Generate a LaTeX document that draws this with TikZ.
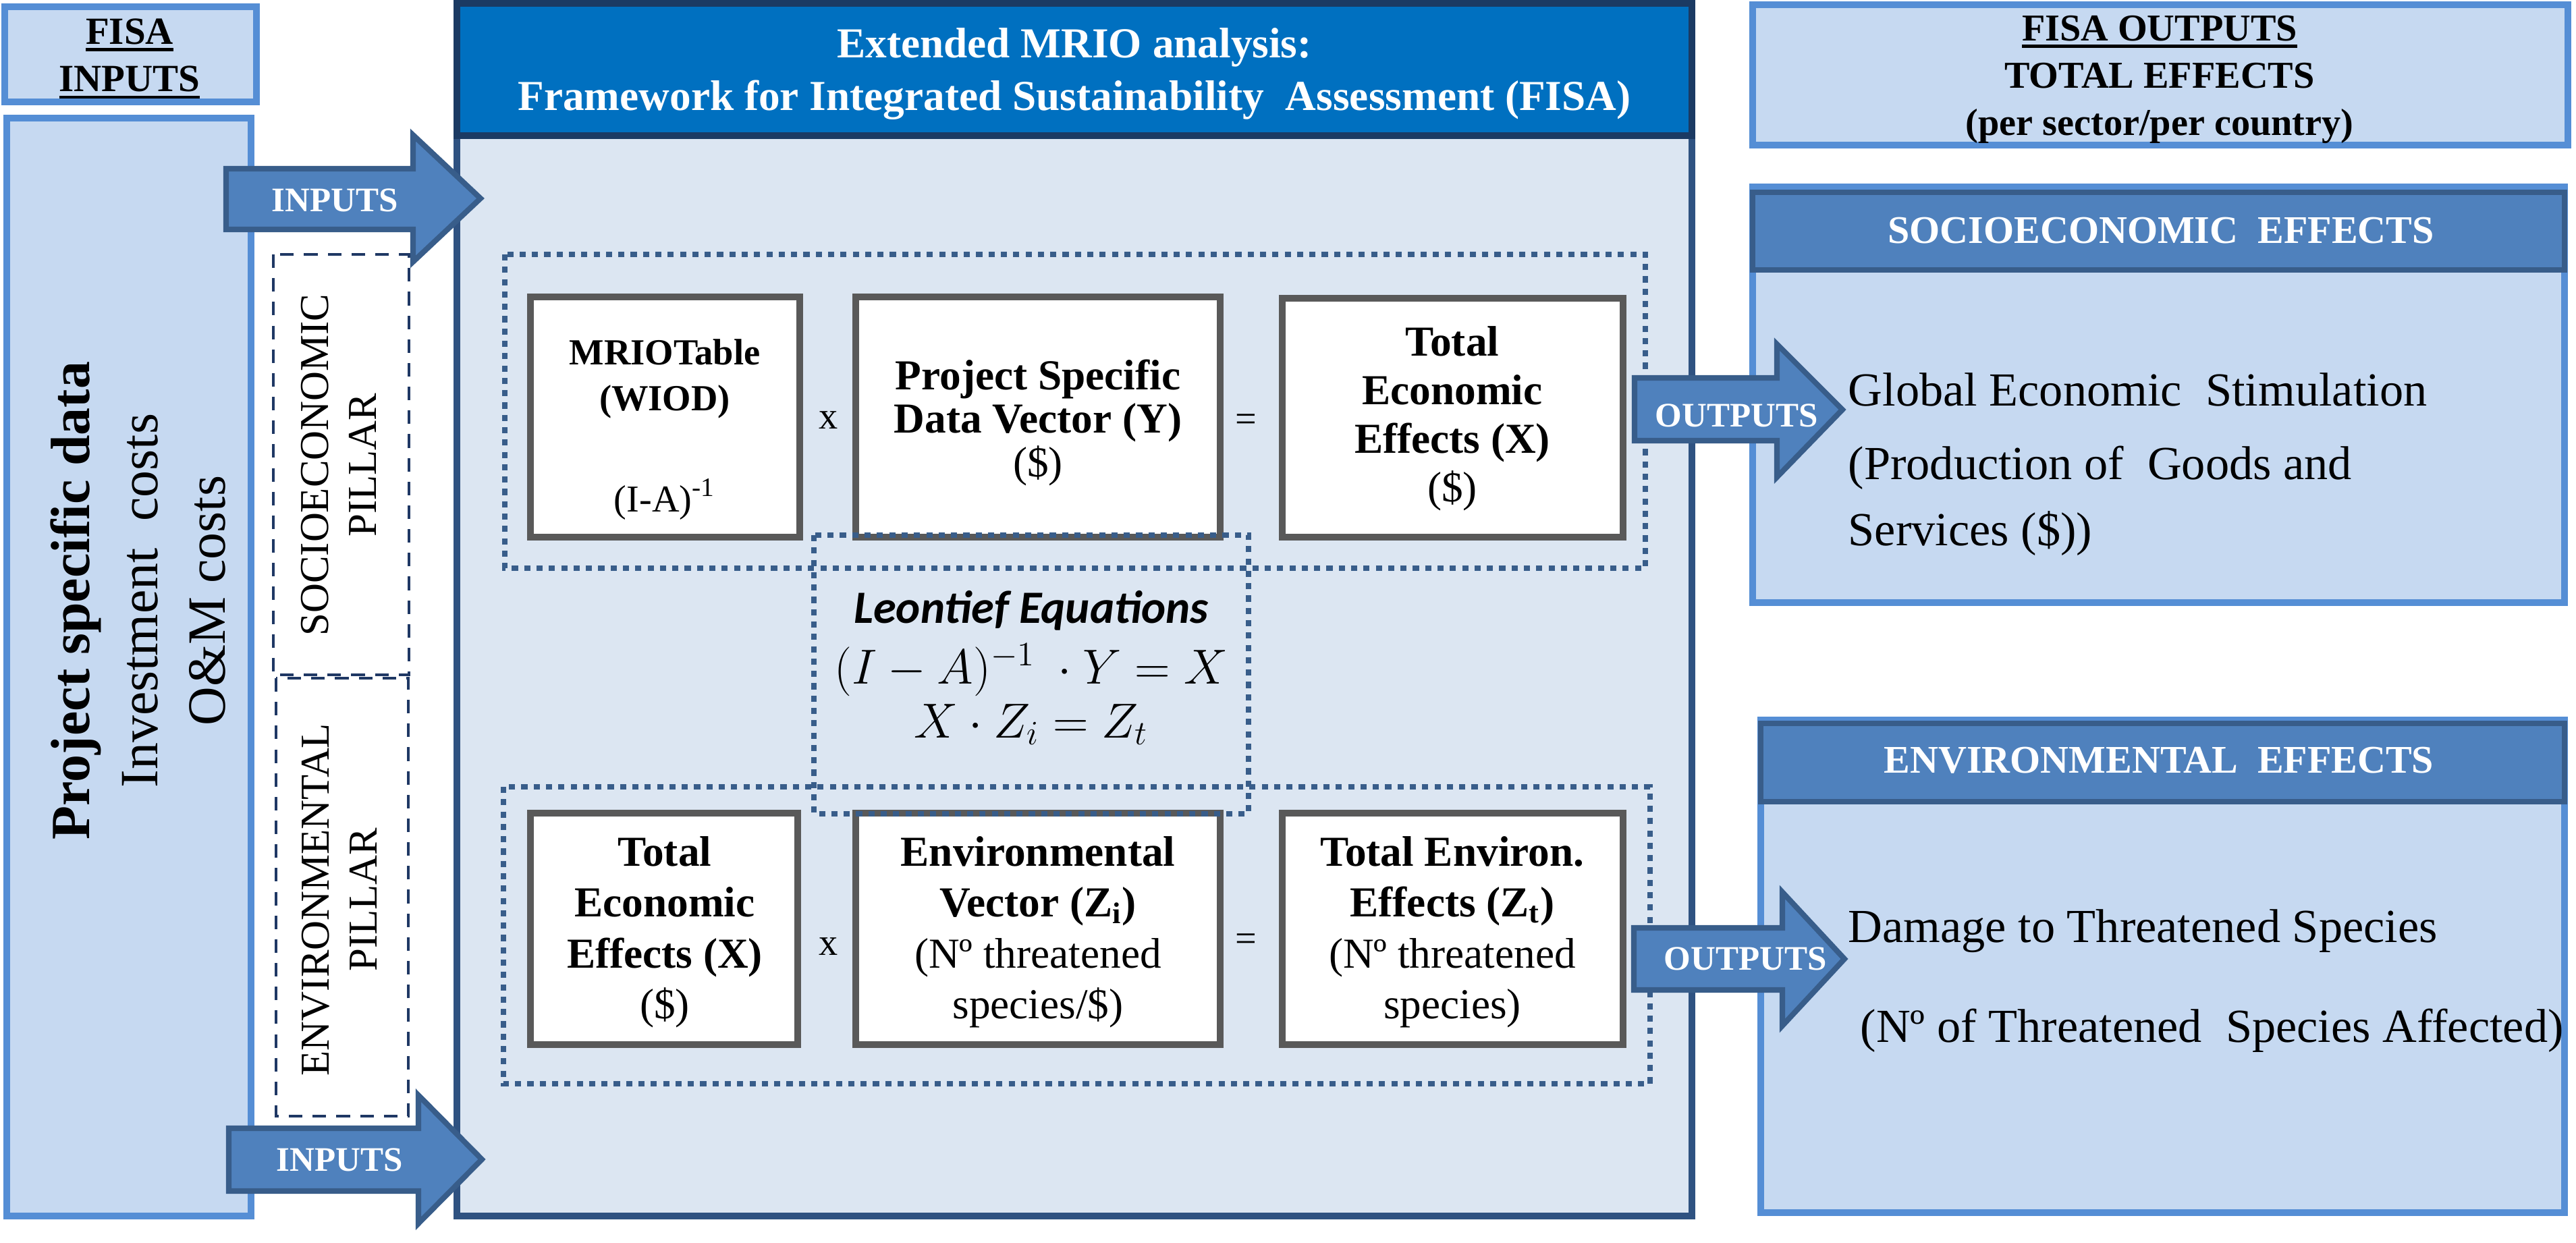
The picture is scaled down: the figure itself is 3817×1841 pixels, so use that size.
\documentclass[tikz,border=0pt]{standalone}
\usepackage{fontspec}
\setmainfont{Liberation Serif}
\newfontfamily\calib{Carlito}
\definecolor{lightfill}{HTML}{C6D9F1}
\definecolor{lightborder}{HTML}{558ED5}
\definecolor{mainfill}{HTML}{DCE6F2}
\definecolor{mainborder}{HTML}{2F5281}
\definecolor{headfill}{HTML}{0070C0}
\definecolor{headborder}{HTML}{1B3A63}
\definecolor{arrowfill}{HTML}{4F81BD}
\definecolor{arrowborder}{HTML}{385D8A}
\definecolor{dotblue}{HTML}{385D8A}
\definecolor{navy}{HTML}{1F3864}
\definecolor{boxgray}{HTML}{595959}
\newcommand\fsz[2]{\fontsize{#1}{#2}\selectfont}
\newcommand\stk[2][c]{\begin{tabular}[t]{@{}#1@{}}#2\end{tabular}}
\newcommand\thul[1]{\leavevmode\vtop{\hbox{#1}\kern1.6pt\hrule height 1.4pt}}
\begin{document}
\begin{tikzpicture}[x=0.01cm,y=-0.01cm,
  lightbox/.style={fill=lightfill,draw=lightborder,line width=2.8pt},
  mainbox/.style={fill=mainfill,draw=mainborder,line width=2.8pt},
  headbox/.style={fill=headfill,draw=headborder,line width=2.6pt},
  effhead/.style={fill=arrowfill,draw=arrowborder,line width=2.4pt},
  blockarrow/.style={fill=arrowfill,draw=arrowborder,line width=2.3pt,line join=miter},
  inbox/.style={fill=white,draw=boxgray,line width=2.7pt},
  dotbox/.style={draw=dotblue,line width=2.4pt,dash pattern=on 2.6pt off 2.6pt},
  pillarbox/.style={draw=navy,line width=1.4pt,dash pattern=on 5.7pt off 4.3pt},
  txt/.style={inner sep=0pt,anchor=base},
  righttxt/.style={txt,anchor=base west,font=\fsz{20pt}{23.6pt}},
  arrtxt/.style={txt,font=\bfseries\fsz{14.5pt}{17pt},text=white},
  sign/.style={inner sep=0pt,font=\fsz{16pt}{19pt}}]
\useasboundingbox (0,0) rectangle (3817,1841);

% ---------- left side ----------
\draw[lightbox] (7,10) rectangle (380,151);
\node[txt,font=\bfseries\fsz{16.2pt}{20pt}] (fisain) at (192,65) {\stk{\thul{FISA}\\\thul{INPUTS}}};

\draw[lightbox] (10,175) rectangle (372,1802);
\node[txt,rotate=90,font=\fsz{22.7pt}{28.5pt}] (psd) at (133,890)
  {\stk{\fsz{23.3pt}{28.5pt}\bfseries Project specific data\\Investment\ \ costs\\O\&M costs}};

\draw[pillarbox] (405,377) rectangle (606,1000);
\draw[pillarbox] (409,1005) rectangle (605,1654);
\node[txt,rotate=90,font=\fsz{17.3pt}{20.2pt}] (socp) at (486,689) {\stk{SOCIOECONOMIC\\PILLAR}};
\node[txt,rotate=90,font=\fsz{17.3pt}{20.2pt}] (envp) at (487,1333) {\stk{ENVIRONMENTAL\\PILLAR}};

% ---------- main box ----------
\draw[mainbox] (677,5) rectangle (2507,1802);
\draw[headbox] (677,5) rectangle (2507,201);
\node[txt,font=\bfseries\fsz{18pt}{22.2pt},text=white] (title) at (1592,85)
  {\stk{Extended MRIO analysis:\\Framework for Integrated Sustainability\ \ Assessment (FISA)}};

\draw[inbox] (786,440) rectangle (1185,796);
\draw[inbox] (1268,440) rectangle (1808,796);
\draw[inbox] (1900,442) rectangle (2405,796);
\draw[inbox] (786,1205) rectangle (1182,1548);
\draw[inbox] (1268,1205) rectangle (1808,1548);
\draw[inbox] (1900,1205) rectangle (2405,1548);

\node[txt,font=\bfseries\fsz{15.5pt}{19.4pt}] (mrio) at (985,540) {\stk{MRIOTable\\(WIOD)}};
\node[txt,font=\fsz{16pt}{20pt}] (ia) at (985,758) {(I-A)\textsuperscript{-1}};
\node[txt,font=\fsz{18pt}{18.4pt}] (pv) at (1538,577) {\stk{\textbf{Project Specific}\\\textbf{Data Vector (Y)}\\(\$)}};
\node[txt,font=\fsz{18pt}{20.5pt}] (tee) at (2152,527) {\stk{\textbf{Total}\\\textbf{Economic}\\\textbf{Effects (X)}\\(\$)}};
\node[txt,font=\fsz{18pt}{21.5pt}] (tee2) at (985,1283) {\stk{\textbf{Total}\\\textbf{Economic}\\\textbf{Effects (X)}\\(\$)}};
\node[txt,font=\fsz{18pt}{21.5pt}] (ev) at (1538,1283) {\stk{\textbf{Environmental}\\\textbf{Vector (Z\textsubscript{i})}\\(Nº threatened\\species/\$)}};
\node[txt,font=\fsz{18pt}{21.5pt}] (tenv) at (2152,1283) {\stk{\textbf{Total Environ.}\\\textbf{Effects (Z\textsubscript{t})}\\(Nº threatened\\species)}};

\node[sign] (times1) at (1228,623) {x};
\node[sign] (eq1) at (1846,627) {=};
\node[sign] (times2) at (1228,1403) {x};
\node[sign] (eq2) at (1846,1397) {=};

\draw[dotbox] (748,377) rectangle (2438,842);
\draw[dotbox] (746,1166) rectangle (2445,1606);
\draw[dotbox] (1206,793) rectangle (1850,1206);

\node[txt,font=\calib\bfseries\itshape\fsz{19.5pt}{23pt}] (leo) at (1528,923) {Leontief Equations};
\node[txt,font=\fsz{20pt}{24pt}] (eqa) at (1528,1013) {$(I-A)^{-1}\ \cdot Y = X$};
\node[txt,font=\fsz{20pt}{24pt}] (eqb) at (1528,1093) {$X\cdot Z_i = Z_t$};

% ---------- right side ----------
\draw[lightbox] (2597,7) rectangle (3805,215);
\node[txt,font=\bfseries\fsz{16pt}{20pt}] (fisaout) at (3200,60)
  {\stk{\thul{FISA OUTPUTS}\\TOTAL EFFECTS\\(per sector/per country)}};

\draw[lightbox] (2597,277) rectangle (3800,893);
\draw[effhead] (2597,285) rectangle (3800,400);
\node[txt,font=\bfseries\fsz{16.5pt}{20pt},text=white] (seh) at (3202,360) {SOCIOECONOMIC\ \ EFFECTS};
\node[righttxt] (set1) at (2738,601) {Global Economic\ \ Stimulation};
\node[righttxt] (set2) at (2738,710) {(Production of\ \ Goods and};
\node[righttxt] (set3) at (2738,808) {Services\ (\$))};

\draw[lightbox] (2609,1067) rectangle (3800,1797);
\draw[effhead] (2609,1072) rectangle (3800,1188);
\node[txt,font=\bfseries\fsz{16.5pt}{20pt},text=white] (eeh) at (3199,1145) {ENVIRONMENTAL\ \ EFFECTS};
\node[righttxt] (eet1) at (2738,1396) {Damage to Threatened Species};
\node[righttxt] (eet2) at (2756,1544) {(Nº of Threatened\ \ Species Affected)};

% ---------- block arrows ----------
\draw[blockarrow] (335,250) -- (612,250) -- (612,200) -- (712,294) -- (612,388) -- (612,340) -- (335,340) -- cycle;
\node[arrtxt] (in1) at (496,313) {INPUTS};
\draw[blockarrow] (339,1672) -- (620,1672) -- (620,1623) -- (714,1718) -- (620,1813) -- (620,1765) -- (339,1765) -- cycle;
\node[arrtxt] (in2) at (503,1735) {INPUTS};
\draw[blockarrow] (2422,560) -- (2633,560) -- (2633,510) -- (2730,607) -- (2633,707) -- (2633,653) -- (2422,653) -- cycle;
\node[arrtxt] (out1) at (2573,632) {OUTPUTS};
\draw[blockarrow] (2421,1375) -- (2641,1375) -- (2641,1322) -- (2733,1421) -- (2641,1520) -- (2641,1467) -- (2421,1467) -- cycle;
\node[arrtxt] (out2) at (2586,1437) {OUTPUTS};
\end{tikzpicture}
\end{document}
